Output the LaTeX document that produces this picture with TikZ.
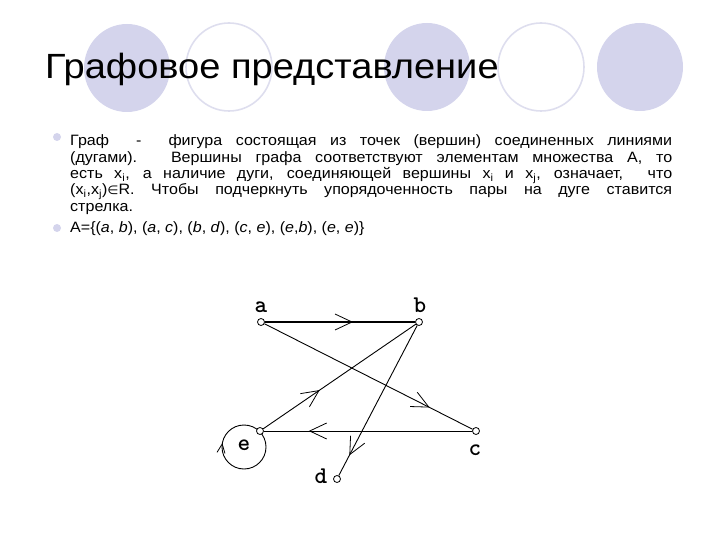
\documentclass[tikz,border=0pt]{standalone}
\usepackage{graphicx}
\usepackage{fontspec}
\setmainfont{Liberation Sans}
\newfontfamily\dejavu{DejaVu Sans}
\usetikzlibrary{decorations.markings}
\definecolor{lav}{RGB}{212,212,236}
\definecolor{lavline}{RGB}{222,222,238}
\pgfdeclarelayer{edgelayer}
\pgfsetlayers{edgelayer,main}
\begin{document}
\begin{tikzpicture}[x=1pt,y=-1pt,
  vtx/.style={circle,draw,fill=white,inner sep=0pt,minimum size=7pt,line width=0.8pt},
  lbl/.style={font=\ttfamily\bfseries\fontsize{24}{24}\selectfont\addfontfeatures{FakeBold=3.5},inner sep=0pt,anchor=base},
  link/.style={line width=0.9pt},
  midarrow/.style={postaction={decorate,decoration={markings,mark=at position #1 with {\draw[line width=0.8pt] (-17pt,8pt) -- (0pt,0pt) -- (-17pt,-8pt);}}}},
  loopmark/.style={postaction={decorate,decoration={markings,mark=at position #1 with {\draw[line width=0.8pt] (9pt,4pt) -- (0pt,0pt) -- (9pt,-4pt);}}}},
  deco/.style={fill=lav},
  decoring/.style={draw=lavline,line width=1.6pt}]
\useasboundingbox (0,0) rectangle (720,540);
% decorative circles
\fill[deco] (127,68) ellipse [x radius=43pt, y radius=44pt];
\draw[decoring] (229,67) ellipse [x radius=43pt, y radius=44pt];
\fill[deco] (427,67) ellipse [x radius=43pt, y radius=44pt];
\draw[decoring] (541,67) ellipse [x radius=43pt, y radius=44pt];
\fill[deco] (640,67) ellipse [x radius=43pt, y radius=44pt];
% title
\node[anchor=base west,inner sep=0pt] (title) at (45,79) {\scalebox{1.087}[1]{\fontsize{35}{35}\selectfont Графовое представление}};
% bullets
\fill[deco] (57,137) circle[radius=4pt];
\fill[deco] (57,228) circle[radius=4pt];
\node[anchor=base west,inner sep=0pt] (body) at (70,146)
{\scalebox{1.07}[1]{\parbox[t]{562.6pt}{\fontsize{15}{16.3}\selectfont
Граф \ - \ фигура состоящая из точек (вершин) соединенных линиями\linebreak
(дугами). Вершины графа соответствуют элементам множества А, то\linebreak
есть x\textsubscript{i}, а наличие дуги, соединяющей вершины x\textsubscript{i} и x\textsubscript{j}, означает, \ что\linebreak
(x\textsubscript{i},x\textsubscript{j}){\dejavu\fontsize{12}{12}\selectfont ∈}R. Чтобы подчеркнуть упорядоченность пары на дуге ставится\linebreak
стрелка.}}};
\node[anchor=base west,inner sep=0pt] (setA) at (70,233)
{\scalebox{1.07}[1]{\fontsize{15}{16.3}\selectfont A=\{(\textit{a}, \textit{b}), (\textit{a}, \textit{c}), (\textit{b}, \textit{d}), (\textit{c}, \textit{e}), (\textit{e},\textit{b}), (\textit{e}, \textit{e})\}}};
% graph
\coordinate (lc) at (244,447);
\node[vtx] (a) at (261,322) {};
\node[vtx] (b) at (419,322) {};
\node[vtx] (c) at (476,431) {};
\node[vtx] (d) at (337,479) {};
\node[vtx] (e) at (260,431) {};
\begin{pgfonlayer}{edgelayer}
\draw[link,loopmark=0.478] (lc) circle[radius=22pt];
\draw[link,line width=1.6pt,midarrow=0.58] (a) -- (b);
\draw[link,midarrow=0.79] (a) -- (c);
\draw[link,midarrow=0.86] (b) -- (d);
\draw[link,midarrow=0.78] (c) -- (e);
\draw[link,midarrow=0.365] (e) -- (b);
\end{pgfonlayer}
\node[lbl] (la) at (261,312) {a};
\node[lbl] (lb) at (420,312) {b};
\node[lbl] (lcc) at (475,455) {c};
\node[lbl] (ld) at (321,483) {d};
\node[lbl] (le) at (244,450) {e};
\end{tikzpicture}
\end{document}
